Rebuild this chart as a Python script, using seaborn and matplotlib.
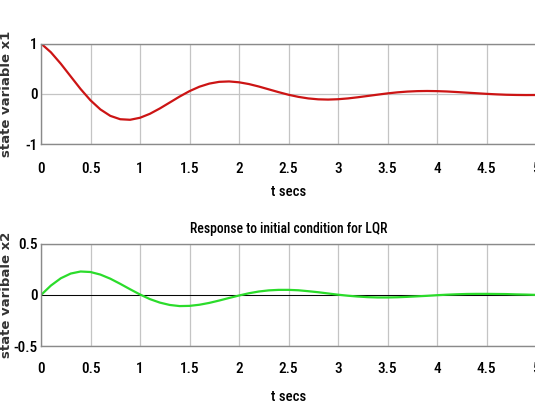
import numpy as np
import pandas as pd
import matplotlib
matplotlib.use("Agg")
import matplotlib.pyplot as plt
from matplotlib import font_manager
import seaborn as sns

# time base (s)
t = [round(0.1 * i, 1) for i in range(51)]

# LQR closed-loop response, state x1
x1 = [1.000, 0.825, 0.597, 0.345, 0.094, -0.131, -0.312, -0.440, -0.507, -0.518,
      -0.478, -0.399, -0.293, -0.175, -0.056, 0.052, 0.140, 0.202, 0.237, 0.245,
      0.228, 0.193, 0.144, 0.088, 0.032, -0.020, -0.062, -0.093, -0.111, -0.116,
      -0.109, -0.093, -0.070, -0.044, -0.018, 0.007, 0.028, 0.043, 0.052, 0.055,
      0.052, 0.045, 0.034, 0.022, 0.010, -0.002, -0.012, -0.020, -0.024, -0.026,
      -0.025]

# LQR closed-loop response, state x2
x2 = [0.000, 0.092, 0.163, 0.209, 0.229, 0.224, 0.199, 0.159, 0.109, 0.056,
      0.005, -0.040, -0.074, -0.097, -0.108, -0.106, -0.095, -0.077, -0.054, -0.029,
      -0.005, 0.017, 0.034, 0.045, 0.050, 0.050, 0.046, 0.037, 0.027, 0.015,
      0.003, -0.007, -0.015, -0.021, -0.024, -0.024, -0.022, -0.018, -0.013, -0.008,
      -0.002, 0.003, 0.007, 0.010, 0.011, 0.011, 0.010, 0.009, 0.006, 0.004,
      0.001]

xticks = [0, 0.5, 1, 1.5, 2, 2.5, 3, 3.5, 4, 4.5, 5]
xticklabels = ["0", "0.5", "1", "1.5", "2", "2.5", "3", "3.5", "4", "4.5", "5"]
y1ticks = [-1, 0, 1]
y1ticklabels = ["-1", "0", "1"]
y2ticks = [-0.5, 0, 0.5]
y2ticklabels = ["-0.5", "0", "0.5"]

df = pd.DataFrame({"t": t, "x1": x1, "x2": x2})

sns.set_theme(style="whitegrid")
plt.rcParams["font.family"] = ["DejaVu Sans"]


def pick_narrow_font():
    """Return FontProperties for a regular-weight narrow/condensed sans face."""
    prefs = ["liberation sans narrow", "arial narrow", "roboto condensed",
             "open sans condensed", "noto sans condensed", "dejavu sans condensed",
             "noto sans", "dejavu sans"]
    cands = []
    for f in font_manager.fontManager.ttflist:
        name = f.name.lower()
        path = f.fname.lower()
        narrowish = ("narrow" in name or "condensed" in name or "narrow" in path
                     or "condensed" in path or str(f.stretch) in ("condensed", "semi-condensed"))
        if not narrowish:
            continue
        if "italic" in path or f.style != "normal":
            continue
        if "extracondensed" in path.replace("-", "").replace("_", ""):
            continue
        w = f.weight if isinstance(f.weight, int) else 400
        if w not in (400, 500) and "regular" not in path and "medium" not in path:
            if not path.endswith("condensed.ttf") and not path.endswith("narrow-regular.ttf"):
                continue
        rank = len(prefs)
        for i, p in enumerate(prefs):
            if name.startswith(p) or p.replace(" ", "") in path.replace("-", "").replace("_", ""):
                rank = i
                break
        cands.append((rank, abs(w - 500), f.fname))
    if cands:
        cands.sort()
        return font_manager.FontProperties(fname=cands[0][2]), True
    return font_manager.FontProperties(family="DejaVu Sans"), False


narrow, found = pick_narrow_font()
tick_size = 11 if found else 9.5


def nfp(size):
    fp = narrow.copy()
    fp.set_size(size)
    return fp


fig = plt.figure(figsize=(5.35, 4.05), dpi=100)
W, H = 535.0, 405.0
RIGHT = 536.0
ax1 = fig.add_axes([41 / W, 1 - 144 / H, (RIGHT - 41) / W, (144 - 43.5) / H])
ax2 = fig.add_axes([41 / W, 1 - 346.3 / H, (RIGHT - 41) / W, (346.3 - 243.7) / H])

sns.lineplot(data=df, x="t", y="x1", ax=ax1, color="#cc1414", linewidth=1.6)
sns.lineplot(data=df, x="t", y="x2", ax=ax2, color="#2bdc2b", linewidth=1.6)
ax2.axhline(0, color="black", linewidth=0.7, zorder=1)

panels = [(ax1, y1ticks, y1ticklabels, "state variable x1", -0.41, 13),
          (ax2, y2ticks, y2ticklabels, "state varibale x2", -0.43, 11)]
for ax, yt, ytl, ylab, xlab_y, xpad in panels:
    ax.set_xlim(0, 5)
    ax.set_ylim(yt[0], yt[-1])
    ax.set_xticks(xticks)
    ax.set_xticklabels(xticklabels, fontproperties=nfp(tick_size))
    ax.set_yticks(yt)
    ax.set_yticklabels(ytl, fontproperties=nfp(tick_size))
    ax.set_facecolor("white")
    ax.grid(True, color="#c4c4c4", linewidth=0.9)
    ax.tick_params(axis="x", length=0, pad=xpad, colors="black")
    ax.tick_params(axis="y", length=0, pad=2.5, colors="black")
    for s in ax.spines.values():
        s.set_color("#8a8a8a")
        s.set_linewidth(1.0)
    ax.set_xlabel("t secs", fontproperties=nfp(tick_size - 0.5), color="black")
    ax.set_ylabel("")
    ax.xaxis.set_label_coords(248 / (RIGHT - 41), xlab_y)
    ax.text(-0.0695, 0.5, ylab, transform=ax.transAxes, rotation=90,
            ha="center", va="center", fontsize=9.5, fontweight="bold",
            family=["DejaVu Sans"], color="#333333")

ax2.set_title("Response to initial condition for LQR",
              fontproperties=nfp(9.8), color="black", pad=8)

fig.savefig("out.png", dpi=100, facecolor="white")
